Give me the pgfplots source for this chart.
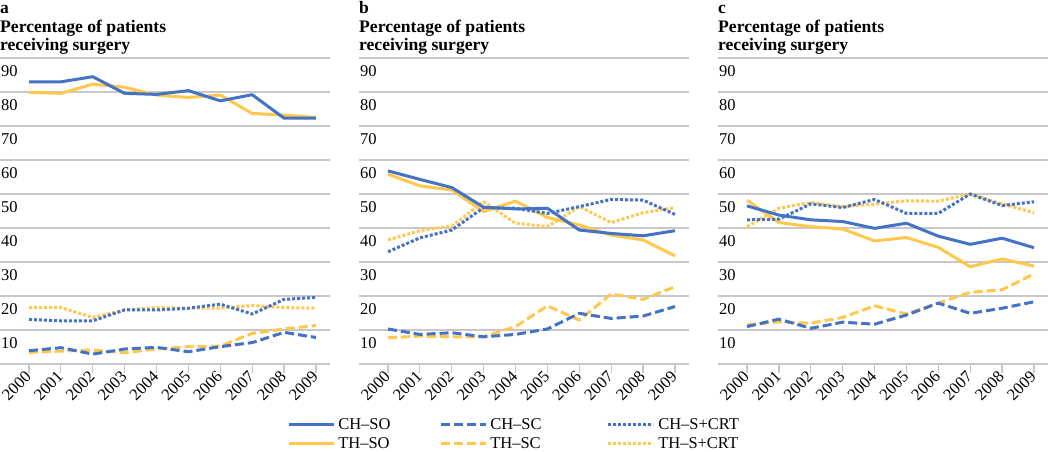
\documentclass[border=0pt]{standalone}
\usepackage{fontspec}
\setmainfont{Liberation Serif}
\usepackage{graphicx}
\usepackage{pgfplots}
\pgfplotsset{compat=1.18}
\definecolor{chblue}{RGB}{68,114,196}
\definecolor{thyel}{RGB}{255,199,75}
\definecolor{gridgray}{RGB}{200,200,200}
\newcommand{\tickfont}{\fontsize{16.5}{18}\selectfont}
\newcommand{\titlefont}{\fontsize{17.5}{18}\selectfont\bfseries}
\newcommand{\paneltitle}[1]{%
  \node[anchor=base west, inner sep=0pt] at ([yshift=44.5pt]rel axis cs:0,1) {\titlefont #1};
  \node[anchor=base west, inner sep=0pt] at ([yshift=25pt]rel axis cs:0,1) {\resizebox{166pt}{!}{\titlefont Percentage of patients}};
  \node[anchor=base west, inner sep=0pt] at ([yshift=7.5pt]rel axis cs:0,1) {\resizebox{130pt}{!}{\titlefont receiving surgery}};
}
\pgfplotsset{
  panel/.style={
    scale only axis, width=330pt, height=306pt,
    anchor=south west,
    xmin=1999.09, xmax=2009.44, ymin=0, ymax=90,
    xtick={2000,2001,...,2009}, ytick={0,10,...,90},
    yticklabels={{},10,20,30,40,50,60,70,80,90},
    ymajorgrids, major grid style={gridgray, line width=1.2pt},
    axis line style={draw=none},
    tick align=outside, major tick length=9pt,
    xtick pos=lower, ytick pos=left,
    xtick style={gridgray, line width=1.2pt},
    ytick style={draw=none},
    ticklabel style={font=\tickfont},
    /pgf/number format/.cd, 1000 sep={}, assume math mode=true, /pgfplots/.cd,
    xticklabel style={rotate=45, anchor=east, inner sep=1pt},
    yticklabel style={anchor=north west, inner sep=0pt, xshift=10pt, yshift=-7pt},
    clip=false,
    every axis plot/.append style={line width=3pt, line join=round},
  },
  so/.style={solid},
  sc/.style={dash pattern=on 9pt off 4pt},
  scrt/.style={dash pattern=on 3pt off 2pt},
}
\begin{document}
\begin{tikzpicture}
% ---------------- panel a
\begin{axis}[panel, at={(0pt,88pt)}]
\addplot[thyel, so] coordinates {(2000,79.9)(2001,79.6)(2002,82.3)(2003,81.4)(2004,79.1)(2005,78.4)(2006,79.1)(2007,73.7)(2008,73.2)(2009,72.5)};
\addplot[thyel, sc] coordinates {(2000,3.4)(2001,3.8)(2002,4.1)(2003,3.3)(2004,4.4)(2005,5.1)(2006,5.3)(2007,9.0)(2008,10.3)(2009,11.3)};
\addplot[thyel, scrt] coordinates {(2000,16.6)(2001,16.6)(2002,13.7)(2003,15.9)(2004,16.6)(2005,16.4)(2006,16.4)(2007,17.2)(2008,16.6)(2009,16.4)};
\addplot[chblue, so] coordinates {(2000,83.0)(2001,83.0)(2002,84.5)(2003,79.6)(2004,79.3)(2005,80.4)(2006,77.4)(2007,79.2)(2008,72.3)(2009,72.3)};
\addplot[chblue, sc] coordinates {(2000,3.9)(2001,4.8)(2002,2.9)(2003,4.4)(2004,4.9)(2005,3.6)(2006,5.1)(2007,6.3)(2008,9.3)(2009,7.8)};
\addplot[chblue, scrt] coordinates {(2000,13.1)(2001,12.7)(2002,12.7)(2003,15.9)(2004,15.9)(2005,16.4)(2006,17.6)(2007,14.7)(2008,19.0)(2009,19.6)};
\paneltitle{a}
\end{axis}
% ---------------- panel b
\begin{axis}[panel, at={(359pt,88pt)},
  legend columns=3,
  legend style={at={(-0.218,-0.178)}, anchor=north west, draw=none, fill=none,
    inner sep=0pt, row sep=6.5pt, column sep=0pt, font=\tickfont,
    cells={anchor=west}, nodes={inner sep=0pt}},
  legend image code/.code={\draw[#1] (0pt,0pt) -- (45pt,0pt);}]
\addplot[thyel, so, forget plot] coordinates {(2000,55.8)(2001,52.4)(2002,51.2)(2003,44.8)(2004,47.9)(2005,43.1)(2006,40.9)(2007,37.9)(2008,36.5)(2009,31.8)};
\addplot[thyel, sc, forget plot] coordinates {(2000,7.7)(2001,8.2)(2002,8.0)(2003,8.0)(2004,11.0)(2005,17.1)(2006,12.9)(2007,20.6)(2008,19.0)(2009,22.7)};
\addplot[thyel, scrt, forget plot] coordinates {(2000,36.5)(2001,39.2)(2002,40.6)(2003,47.7)(2004,41.4)(2005,40.4)(2006,46.3)(2007,41.6)(2008,44.5)(2009,46.0)};
\addplot[chblue, so, forget plot] coordinates {(2000,56.8)(2001,54.3)(2002,51.9)(2003,46.1)(2004,45.6)(2005,45.8)(2006,39.4)(2007,38.4)(2008,37.7)(2009,39.2)};
\addplot[chblue, sc, forget plot] coordinates {(2000,10.3)(2001,8.7)(2002,9.2)(2003,8.0)(2004,8.7)(2005,10.3)(2006,14.9)(2007,13.4)(2008,14.1)(2009,16.9)};
\addplot[chblue, scrt, forget plot] coordinates {(2000,33.0)(2001,37.1)(2002,39.4)(2003,46.0)(2004,45.8)(2005,44.3)(2006,46.3)(2007,48.4)(2008,48.2)(2009,44.0)};
\addlegendimage{chblue, so, line width=3pt}
\addlegendentry{\makebox[104pt][l]{\hspace{3pt}CH--SO}}
\addlegendimage{chblue, sc, line width=3pt}
\addlegendentry{\makebox[119pt][l]{\hspace{3pt}CH--SC}}
\addlegendimage{chblue, scrt, line width=3pt}
\addlegendentry{\hspace{4pt}CH--S+CRT}
\addlegendimage{thyel, so, line width=3pt}
\addlegendentry{\makebox[104pt][l]{\hspace{3pt}TH--SO}}
\addlegendimage{thyel, sc, line width=3pt}
\addlegendentry{\makebox[119pt][l]{\hspace{3pt}TH--SC}}
\addlegendimage{thyel, scrt, line width=3pt}
\addlegendentry{\hspace{4pt}TH--S+CRT}
\paneltitle{b}
\end{axis}
% ---------------- panel c
\begin{axis}[panel, at={(718pt,88pt)}]
\addplot[thyel, so] coordinates {(2000,48.2)(2001,41.6)(2002,40.4)(2003,39.7)(2004,36.2)(2005,37.2)(2006,34.3)(2007,28.6)(2008,30.9)(2009,28.8)};
\addplot[thyel, sc] coordinates {(2000,11.5)(2001,12.4)(2002,12.0)(2003,13.7)(2004,17.1)(2005,14.7)(2006,17.9)(2007,21.1)(2008,21.8)(2009,26.5)};
\addplot[thyel, scrt] coordinates {(2000,40.4)(2001,45.8)(2002,47.5)(2003,46.3)(2004,47.0)(2005,48.0)(2006,47.9)(2007,50.0)(2008,47.1)(2009,44.5)};
\addplot[chblue, so] coordinates {(2000,46.5)(2001,43.8)(2002,42.4)(2003,41.9)(2004,39.9)(2005,41.4)(2006,37.6)(2007,35.2)(2008,37.0)(2009,34.2)};
\addplot[chblue, sc] coordinates {(2000,11.0)(2001,13.2)(2002,10.5)(2003,12.3)(2004,11.7)(2005,14.4)(2006,17.9)(2007,14.9)(2008,16.4)(2009,18.3)};
\addplot[chblue, scrt] coordinates {(2000,42.4)(2001,42.6)(2002,47.1)(2003,46.0)(2004,48.4)(2005,44.3)(2006,44.3)(2007,50.0)(2008,46.6)(2009,47.7)};
\paneltitle{c}
\end{axis}
\pgfresetboundingbox
\path[use as bounding box] (0pt,0pt) rectangle (1050pt,452pt);
\end{tikzpicture}
\end{document}
